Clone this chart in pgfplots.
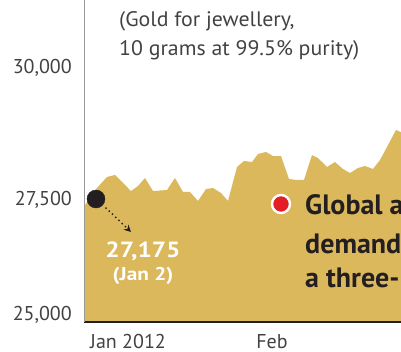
\documentclass[border=0pt]{standalone}
\usepackage{fontspec}
\setmainfont{PT Sans}
\usepackage{pgfplots}
\pgfplotsset{compat=1.18}
\usetikzlibrary{arrows.meta}
\definecolor{gold}{HTML}{DCB85C}
\definecolor{ink}{HTML}{231F20}
\definecolor{redd}{HTML}{E31E26}
\begin{document}
\begin{tikzpicture}
\path[use as bounding box] (-84pt,-30pt) rectangle (317pt,322pt);
\clip (-84pt,-30pt) rectangle (317pt,322pt);
\begin{axis}[at={(0,0)}, anchor=south west, scale only axis,
  width=317pt, height=322pt,
  xmin=0, xmax=317, ymin=25189, ymax=31288,
  axis x line=bottom, axis y line=left, axis on top,
  x axis line style={-, draw=ink, line width=2pt},
  y axis line style={-, draw=gray!80, line width=0.8pt},
  major tick length=0pt,
  ytick={25322,27500,30000}, yticklabels={{25,000},{27,500},{30,000}},
  xtick={44,188}, xticklabels={Jan 2012, Feb},
  ticklabel style={font=\fontsize{20}{23}\selectfont, text=ink!85, inner sep=0pt},
  yticklabel style={anchor=east, xshift=-12pt},
  xticklabel style={anchor=north, yshift=-12.5pt},
  /pgf/number format/assume math mode=true]
\addplot[fill=gold, draw=none] coordinates {
(1,27405) (13,27727) (23,27936) (31,27974) (47,27670) (54,27765) (61,27917)
(69,27670) (83,27689) (91,27917) (99,27652) (106,27652) (114,27481) (122,27708)
(129,27727) (137,27633) (144,27481) (153,28125) (160,28239) (168,28220)
(174,28371) (182,28409) (189,28333) (197,28333) (205,27898) (213,27879)
(220,27879) (228,28352) (234,28295) (243,28125) (251,28220) (259,28087)
(266,28011) (274,28106) (281,28144) (289,28087) (296,28258) (303,28504)
(312,28826) (319,28769)} \closedcycle;
\addplot[only marks, mark=*, mark size=9pt, color=ink] coordinates {(12,27519)};
\addplot[only marks, mark=*, mark size=9pt, mark options={fill=redd, draw=white, line width=2.4pt}] coordinates {(197,27424)};
\draw[ink, line width=2pt, line cap=round, dash pattern={on 0pt off 4.5pt}, -{Stealth[length=7pt,width=7pt]}] (axis cs:22,27348) -- (axis cs:47,26894);
\node[anchor=base, text=white, inner sep=0pt, font=\fontsize{22}{26}\selectfont\bfseries\addfontfeature{FakeStretch=1.15}] at (axis cs:59,26420) {27,175};
\node[anchor=base, text=white, inner sep=0pt, font=\fontsize{18.5}{21}\selectfont\bfseries\addfontfeature{FakeStretch=1.15}] at (axis cs:59,25980) {(Jan 2)};
\node[anchor=base west, text=ink!85, inner sep=0pt, font=\fontsize{21}{24}\selectfont\addfontfeature{FakeStretch=1.04}] at (axis cs:35,30777) {(Gold for jewellery,};
\node[anchor=base west, text=ink!85, inner sep=0pt, font=\fontsize{21}{24}\selectfont\addfontfeature{FakeStretch=1.04}] at (axis cs:35,30246) {10 grams at 99.5\% purity)};
\node[anchor=base west, text=ink, inner sep=0pt, font=\fontsize{28}{32}\selectfont\bfseries] at (axis cs:221,27216) {Global a};
\node[anchor=base west, text=ink, inner sep=0pt, font=\fontsize{28}{32}\selectfont\bfseries] at (axis cs:221,26477) {demand};
\node[anchor=base west, text=ink, inner sep=0pt, font=\fontsize{28}{32}\selectfont\bfseries] at (axis cs:221,25833) {a three-};
\end{axis}
\end{tikzpicture}
\end{document}
